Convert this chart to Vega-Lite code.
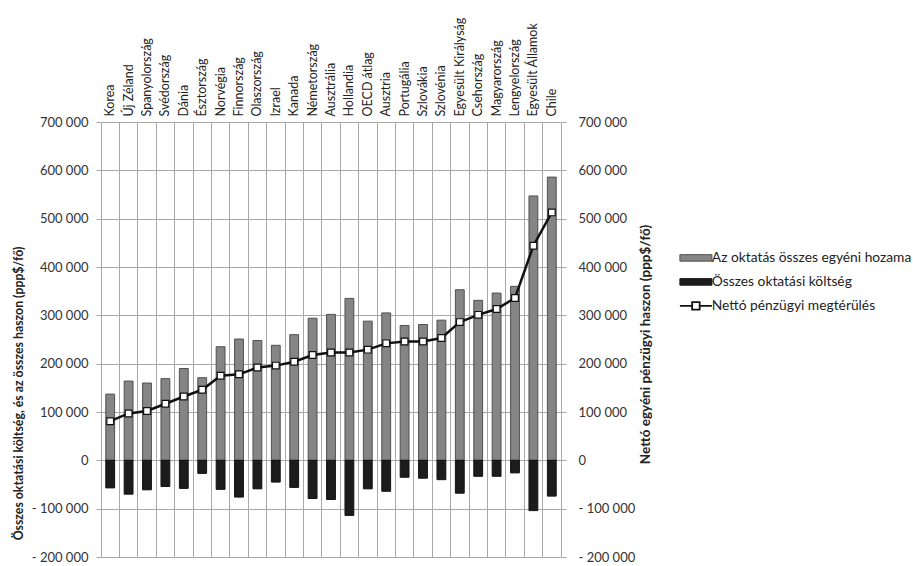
{
  "$schema": "https://vega.github.io/schema/vega-lite/v6.json",
  "width": 460,
  "height": 435,
  "autosize": "none",
  "padding": {"left": 101, "top": 122, "right": 352, "bottom": 9},
  "background": "white",
  "config": {
    "view": {"stroke": null},
    "font": "Lato",
    "axis": {"labelFont": "Lato", "titleFont": "Lato", "labelColor": "#333333", "titleColor": "#222222"},
    "legend": {"labelFont": "Lato"}
  },
  "data": {
    "values": [
      {"country": "Korea", "ret": 137000, "cost": -57000, "net": 81000},
      {"country": "Új Zéland", "ret": 164000, "cost": -70000, "net": 97000},
      {"country": "Spanyolország", "ret": 160000, "cost": -61000, "net": 102000},
      {"country": "Svédország", "ret": 169000, "cost": -54000, "net": 117000},
      {"country": "Dánia", "ret": 190000, "cost": -58000, "net": 132000},
      {"country": "Észtország", "ret": 171000, "cost": -27000, "net": 146000},
      {"country": "Norvégia", "ret": 235000, "cost": -60000, "net": 175000},
      {"country": "Finnország", "ret": 251000, "cost": -76000, "net": 178000},
      {"country": "Olaszország", "ret": 248000, "cost": -59000, "net": 192000},
      {"country": "Izrael", "ret": 238000, "cost": -45000, "net": 196000},
      {"country": "Kanada", "ret": 260000, "cost": -56000, "net": 204000},
      {"country": "Németország", "ret": 294000, "cost": -79000, "net": 218000},
      {"country": "Ausztrália", "ret": 302000, "cost": -81000, "net": 223000},
      {"country": "Hollandia", "ret": 335000, "cost": -114000, "net": 223000},
      {"country": "OECD átlag", "ret": 288000, "cost": -59000, "net": 229000},
      {"country": "Ausztria", "ret": 305000, "cost": -64000, "net": 242000},
      {"country": "Portugália", "ret": 279000, "cost": -35000, "net": 246000},
      {"country": "Szlovákia", "ret": 281000, "cost": -37000, "net": 246000},
      {"country": "Szlovénia", "ret": 290000, "cost": -40000, "net": 253000},
      {"country": "Egyesült Királyság", "ret": 353000, "cost": -68000, "net": 286000},
      {"country": "Csehország", "ret": 331000, "cost": -33000, "net": 301000},
      {"country": "Magyarország", "ret": 346000, "cost": -33000, "net": 313000},
      {"country": "Lengyelország", "ret": 360000, "cost": -26000, "net": 336000},
      {"country": "Egyesült Államok", "ret": 547000, "cost": -104000, "net": 444000},
      {"country": "Chile", "ret": 586000, "cost": -74000, "net": 513000}
    ]
  },
  "encoding": {
    "x": {
      "field": "country", "type": "nominal", "sort": null,
      "scale": {"paddingInner": 0, "paddingOuter": 0},
      "axis": {
        "orient": "top", "title": null, "labelAngle": -90, "ticks": false, "domain": false,
        "labelPadding": 6, "labelFontSize": 12.5, "labelColor": "#222222",
        "grid": true, "bandPosition": 0, "gridColor": "#a8a8a8", "gridWidth": 1
      }
    }
  },
  "layer": [
    {
      "mark": {"type": "bar", "width": {"band": 0.48}, "stroke": "#505050", "strokeWidth": 1},
      "encoding": {
        "y": {
          "field": "ret", "type": "quantitative",
          "scale": {"domain": [-200000, 700000], "nice": false, "zero": false},
          "axis": {
            "orient": "left",
            "values": [-200000, -100000, 0, 100000, 200000, 300000, 400000, 500000, 600000, 700000],
            "labelExpr": "datum.value < 0 ? '- ' + replace(format(-datum.value, ','), ',', ' ') : replace(format(datum.value, ','), ',', ' ')",
            "labelFontSize": 13, "labelPadding": 8, "tickSize": 5, "tickColor": "#a8a8a8",
            "domain": true, "domainColor": "#a8a8a8",
            "grid": true, "gridColor": "#a8a8a8", "gridWidth": 1,
            "title": "Összes oktatási költség, és az összes haszon (ppp$/fő)",
            "titleFontSize": 12.3, "titleFontWeight": "bold",
            "titleAngle": -90, "titleAlign": "center", "titleBaseline": "middle",
            "titleX": -83, "titleY": 271
          }
        },
        "color": {
          "datum": "Az oktatás összes egyéni hozama", "type": "nominal",
          "scale": {
            "domain": ["Az oktatás összes egyéni hozama", "Összes oktatási költség", "Nettó pénzügyi megtérülés"],
            "range": ["#858585", "#1c1c1c", "#ffffff"]
          },
          "legend": {
            "title": null, "orient": "none", "legendX": 588, "legendY": 129,
            "symbolSize": 625, "labelFontSize": 13.8, "labelColor": "#222222", "labelLimit": 400,
            "labelOffset": 9, "rowPadding": 9, "padding": 0,
            "symbolStrokeColor": "#111111", "symbolStrokeWidth": 1.5,
            "encode": {
              "symbols": {
                "update": {
                  "shape": {"signal": "datum.value == 'Nettó pénzügyi megtérülés' ? 'M-1.28,0H-0.3M0.3,0H1.28M-0.3,-0.3H0.3V0.3H-0.3Z' : 'M-1.28,-0.26H1.28V0.26H-1.28Z'"},
                  "stroke": {"signal": "datum.value == 'Az oktatás összes egyéni hozama' ? '#505050' : '#111111'"},
                  "strokeWidth": {"signal": "datum.value == 'Nettó pénzügyi megtérülés' ? 1.8 : 1"},
                  "opacity": {"value": 1},
                  "fillOpacity": {"value": 1}
                }
              }
            }
          }
        }
      }
    },
    {
      "mark": {"type": "bar", "width": {"band": 0.48}, "stroke": "#111111", "strokeWidth": 1},
      "encoding": {
        "y": {
          "field": "cost", "type": "quantitative",
          "scale": {"domain": [-200000, 700000], "nice": false, "zero": false},
          "axis": null
        },
        "color": {
          "datum": "Összes oktatási költség", "type": "nominal",
          "legend": {
            "title": null, "orient": "none", "legendX": 588, "legendY": 129,
            "symbolSize": 625, "labelFontSize": 13.8, "labelColor": "#222222", "labelLimit": 400,
            "labelOffset": 9, "rowPadding": 9, "padding": 0,
            "symbolStrokeColor": "#111111", "symbolStrokeWidth": 1.5,
            "encode": {
              "symbols": {
                "update": {
                  "shape": {"signal": "datum.value == 'Nettó pénzügyi megtérülés' ? 'M-1.28,0H-0.3M0.3,0H1.28M-0.3,-0.3H0.3V0.3H-0.3Z' : 'M-1.28,-0.26H1.28V0.26H-1.28Z'"},
                  "stroke": {"signal": "datum.value == 'Az oktatás összes egyéni hozama' ? '#505050' : '#111111'"},
                  "strokeWidth": {"signal": "datum.value == 'Nettó pénzügyi megtérülés' ? 1.8 : 1"},
                  "opacity": {"value": 1},
                  "fillOpacity": {"value": 1}
                }
              }
            }
          }
        }
      }
    },
    {
      "mark": {"type": "line", "strokeWidth": 2.5, "stroke": "#111111"},
      "encoding": {
        "y": {
          "field": "net", "type": "quantitative",
          "scale": {"domain": [-200000, 700000], "nice": false, "zero": false},
          "axis": {
            "orient": "right",
            "values": [-200000, -100000, 0, 100000, 200000, 300000, 400000, 500000, 600000, 700000],
            "labelExpr": "datum.value < 0 ? '- ' + replace(format(-datum.value, ','), ',', ' ') : replace(format(datum.value, ','), ',', ' ')",
            "labelFontSize": 13, "labelPadding": 12, "tickSize": 5, "tickColor": "#a8a8a8",
            "domain": true, "domainColor": "#a8a8a8", "grid": false,
            "title": "Nettó egyéni pénzügyi haszon (ppp$/fő)",
            "titleFontSize": 13.5, "titleFontWeight": "bold",
            "titleAngle": -90, "titleAlign": "center", "titleBaseline": "middle",
            "titleX": 84, "titleY": 222
          }
        }
      }
    },
    {
      "mark": {"type": "point", "shape": "square", "filled": true, "fill": "white", "stroke": "#111111", "strokeWidth": 1.2, "size": 45, "opacity": 1},
      "encoding": {
        "y": {
          "field": "net", "type": "quantitative",
          "scale": {"domain": [-200000, 700000], "nice": false, "zero": false},
          "axis": null
        }
      }
    }
  ],
  "resolve": {"scale": {"y": "independent"}, "axis": {"y": "independent"}}
}
